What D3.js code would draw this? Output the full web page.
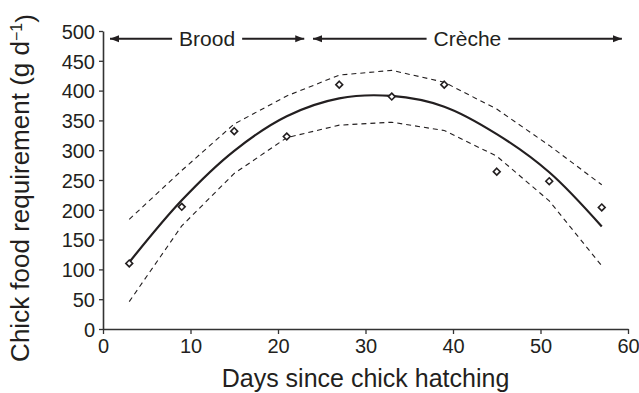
<!DOCTYPE html>
<html>
<head>
<meta charset="utf-8">
<script src="https://cdn.jsdelivr.net/npm/d3@7"></script>
<style>
  body { margin: 0; background: #fff; }
  text { font-family: "Liberation Sans", Arial, sans-serif; fill: #231f20; }
</style>
</head>
<body>
<div id="PlotArea"></div>
<script>
// data
var days = [3, 9, 15, 21, 27, 33, 39, 45, 51, 57];
var observed = [110, 205, 332, 323, 410, 390, 410, 264, 248, 204];
var fitted = [112, 216, 299, 357, 387, 391, 373, 327, 263, 172];
var upperCI = [184, 266, 344, 391, 426, 434, 414, 369, 308, 242];
var lowerCI = [46, 173, 261, 321, 342, 347, 333, 290, 215, 106];
var xTicks = [0, 10, 20, 30, 40, 50, 60];
var yTicks = [0, 50, 100, 150, 200, 250, 300, 350, 400, 450, 500];
var periodLabels = ["Brood", "Crèche"];
var periodStart = [0.8, 24];
var periodEnd = [23, 59.3];
var periodLevel = 487;

// dimensions
var margins = [31, 11, 64, 103]; // top right bottom left
var W = 639, H = 393;
var width = W - margins[1] - margins[3];
var height = H - margins[0] - margins[2];

var xscale = d3.scaleLinear().domain([0, 60]).range([0, width]);
var yscale = d3.scaleLinear().domain([0, 500]).range([height, 0]);

var svg = d3.select("#PlotArea").append("svg")
  .attr("width", W).attr("height", H)
  .append("g")
  .attr("transform", "translate(" + margins[3] + "," + margins[0] + ")");

// axes
var xAxis = svg.append("g").attr("transform", "translate(0," + height + ")")
  .call(d3.axisBottom(xscale).tickValues(xTicks).tickSize(5).tickPadding(3).tickSizeOuter(0));
var yAxis = svg.append("g")
  .call(d3.axisLeft(yscale).tickValues(yTicks).tickSize(4).tickPadding(4).tickSizeOuter(0));
[xAxis, yAxis].forEach(function(a) {
  a.select(".domain").attr("stroke", "#333").attr("stroke-width", 1.6);
  a.selectAll(".tick line").attr("stroke", "#333").attr("stroke-width", 1.3);
  a.selectAll(".tick text").style("font-size", "20px").attr("fill", "#231f20");
});
xAxis.selectAll(".tick text").attr("dy", "0.8em");
yAxis.selectAll(".tick text").attr("dy", "0.36em");

// lines
var line = function(vals, curve) {
  return d3.line().curve(curve).x(function(d, i) { return xscale(days[i]); })
                  .y(function(d) { return yscale(d); })(vals);
};
svg.append("path").attr("d", line(upperCI, d3.curveLinear)).attr("fill", "none")
  .attr("stroke", "#231f20").attr("stroke-width", 1.1).attr("stroke-dasharray", "5,4");
svg.append("path").attr("d", line(lowerCI, d3.curveLinear)).attr("fill", "none")
  .attr("stroke", "#231f20").attr("stroke-width", 1.1).attr("stroke-dasharray", "5,4");
svg.append("path").attr("d", line(fitted, d3.curveCatmullRom)).attr("fill", "none")
  .attr("stroke", "#231f20").attr("stroke-width", 2.2);

// observed points, open diamonds
svg.selectAll(".pt").data(observed).enter().append("path")
  .attr("class", "pt")
  .attr("transform", function(d, i) { return "translate(" + xscale(days[i]) + "," + yscale(d) + ")"; })
  .attr("d", "M0,-3.4L3.4,0L0,3.4L-3.4,0Z")
  .attr("fill", "#fff").attr("stroke", "#231f20").attr("stroke-width", 1.6);

// period arrows
var defs = svg.append("defs");
defs.append("marker").attr("id", "head").attr("viewBox", "0 0 10 10")
  .attr("refX", 10).attr("refY", 5).attr("markerWidth", 9).attr("markerHeight", 9)
  .attr("markerUnits", "userSpaceOnUse").attr("orient", "auto-start-reverse")
  .append("path").attr("d", "M0,1L10,5L0,9Z").attr("fill", "#231f20");

var gap = 7;
periodLabels.forEach(function(lab, i) {
  var x0 = xscale(periodStart[i]), x1 = xscale(periodEnd[i]);
  var yy = yscale(periodLevel);
  var t = svg.append("text").attr("x", (x0 + x1) / 2).attr("y", yy + 7.5)
    .attr("text-anchor", "middle").style("font-size", "21px").text(lab);
  var tw = t.node().getComputedTextLength();
  var cx = (x0 + x1) / 2;
  svg.append("line").attr("x1", cx - tw / 2 - gap).attr("x2", x0).attr("y1", yy).attr("y2", yy)
    .attr("stroke", "#231f20").attr("stroke-width", 2.2).attr("marker-end", "url(#head)");
  svg.append("line").attr("x1", cx + tw / 2 + gap).attr("x2", x1).attr("y1", yy).attr("y2", yy)
    .attr("stroke", "#231f20").attr("stroke-width", 2.2).attr("marker-end", "url(#head)");
});

// axis titles
svg.append("text").attr("x", width / 2).attr("y", height + 58)
  .attr("text-anchor", "middle").style("font-size", "25px").text("Days since chick hatching");

var yl = svg.append("text").attr("transform", "rotate(-90)")
  .attr("x", -(height / 2 + 8)).attr("y", -74)
  .attr("text-anchor", "middle").style("font-size", "26px");
yl.append("tspan").text("Chick food requirement (g d");
yl.append("tspan").attr("dy", "-0.45em").style("font-size", "16px").text("−1");
yl.append("tspan").attr("dy", "0.45em").text(")");
</script>
</body>
</html>
